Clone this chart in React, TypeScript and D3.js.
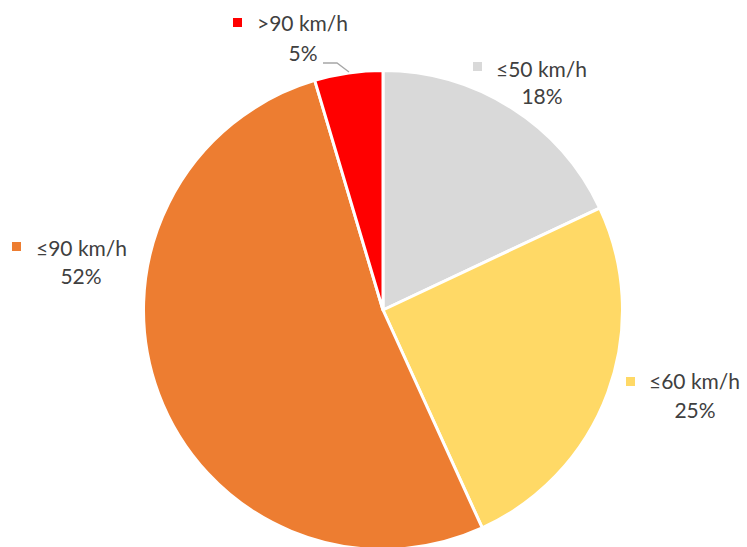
import React from "react";
import * as d3 from "d3";

const categories = ["≤50 km/h", "≤60 km/h", "≤90 km/h", ">90 km/h"];
const values = [18.0, 25.2, 52.2, 4.6];
const percentLabels = ["18%", "25%", "52%", "5%"];
const colors = ["#d9d9d9", "#ffd966", "#ed7d31", "#ff0000"];

const W = 747;
const H = 547;
const CX = 383;
const CY = 310;
const R = 239.5;

const labelPos = [
  { sq: [473, 62], tx: 496, ty: 77, px: 542, py: 104 },
  { sq: [626, 377], tx: 649, ty: 389, px: 695, py: 418 },
  { sq: [12, 242], tx: 36, ty: 256, px: 81, py: 284 },
  { sq: [233, 18], tx: 257, ty: 31, px: 303, py: 61 },
];

export default function App() {
  const pie = d3
    .pie<number>()
    .sort(null)
    .value((d) => d)(values);
  const arc = d3.arc<d3.PieArcDatum<number>>().innerRadius(0).outerRadius(R);

  return (
    <svg
      width={W}
      height={H}
      style={{ position: "absolute", left: 0, top: 0 }}
      fontFamily="Lato, 'Open Sans', sans-serif"
    >
      <rect width={W} height={H} fill="#ffffff" />
      <g transform={`translate(${CX},${CY})`}>
        {pie.map((p, i) => (
          <path key={i} d={arc(p) || ""} fill={colors[i]} stroke="#ffffff" strokeWidth={3} strokeLinejoin="round" />
        ))}
      </g>
      <polyline points="323,63 337,63 349,72" fill="none" stroke="#a6a6a6" strokeWidth={1.3} />
      {categories.map((c, i) => {
        const lp = labelPos[i];
        return (
          <g key={c}>
            <rect x={lp.sq[0]} y={lp.sq[1]} width={9} height={9} fill={colors[i]} />
            <text x={lp.tx} y={lp.ty} fontSize={21} fill="#404040">
              {c}
            </text>
            <text x={lp.px} y={lp.py} fontSize={21} fill="#404040" textAnchor="middle">
              {percentLabels[i]}
            </text>
          </g>
        );
      })}
    </svg>
  );
}
